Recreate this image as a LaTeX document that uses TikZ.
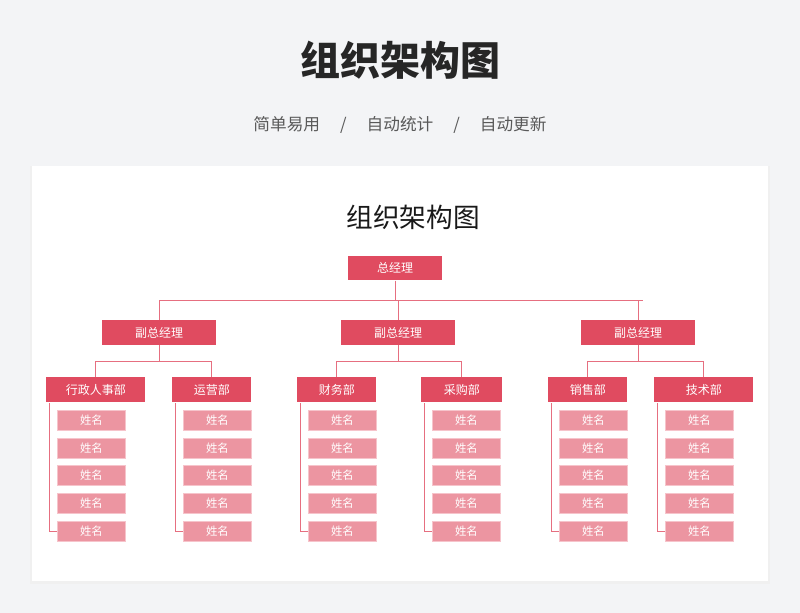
\documentclass[tikz,border=0pt]{standalone}
\usepackage{fontspec}
\setmainfont{Noto Sans CJK SC}
\begin{document}
\begin{tikzpicture}[x=0.75pt,y=-0.75pt,
  lead/.style={draw=none,fill=hd,text=white,font=\fontsize{9}{10}\selectfont,minimum height=18.5pt,inner sep=0pt},
  nm/.style={draw=nmb,line width=0.6pt,fill=nmf,text=white,font=\fontsize{8.5}{10}\selectfont,minimum width=51pt,minimum height=15pt,inner sep=0pt},
  ln/.style={draw=hd!80,line width=0.7pt}]
\definecolor{hd}{HTML}{E04B60}
\definecolor{nmf}{HTML}{EC95A1}
\definecolor{nmb}{HTML}{F6C4CB}
\definecolor{bg}{HTML}{F3F4F6}
\useasboundingbox (0,0) rectangle (800,613);
\fill[bg] (0,0) rectangle (800,613);
\fill[black!6] (30,166) rectangle (770,584);
\fill[white] (32,166) rectangle (768,581);
\node[font=\fontsize{30}{34}\selectfont\bfseries,text=black!85] (t) at (400,60) {组织架构图};
\node[font=\fontsize{12.5}{15}\selectfont,text=black!65] (st) at (400,125) {简单易用\hspace{15pt}/\hspace{15pt}自动统计\hspace{15pt}/\hspace{15pt}自动更新};
\node[font=\fontsize{20}{22}\selectfont,text=black!90] (t2) at (413,217) {组织架构图};
\node[lead,minimum width=70.5pt] (top) at (395,268) {总经理};
\foreach \n/\x in {v1/159,v2/398,v3/638}
  \node[lead,minimum width=85.5pt] (\n) at (\x,332.5) {副总经理};
\draw[ln] (top.south) -- (395,300);
\draw[ln] (159,300) -- (643,300);
\foreach \n in {v1,v2,v3} \draw[ln] (\n.north |- 0,300) -- (\n.north);
\foreach \n/\l/\r/\v/\t in {d1/46/145/v1/行政人事部,d2/172/251/v1/运营部,d3/297/376/v2/财务部,d4/421/502/v2/采购部,d5/548/627/v3/销售部,d6/654/753/v3/技术部}{
  \node[lead,minimum width={(\r-\l)*0.75pt},anchor=north west] (\n) at (\l,377) {\t};
  \draw[ln] (\v.south) -- (\v.south |- 0,361);
  \draw[ln] (\n.north |- 0,361) -- (\n.north);
  \foreach \y [count=\i] in {420,448,475,503,531}
    \node[nm,anchor=west] (\n n\i) at (\l+11,\y) {姓名};
  \draw[ln] (\l+3,403) -- (\l+3,531) -- (\n n5.west);
}
\draw[ln] (95,361) -- (212,361);
\draw[ln] (337,361) -- (462,361);
\draw[ln] (588,361) -- (704,361);
\end{tikzpicture}
\end{document}
